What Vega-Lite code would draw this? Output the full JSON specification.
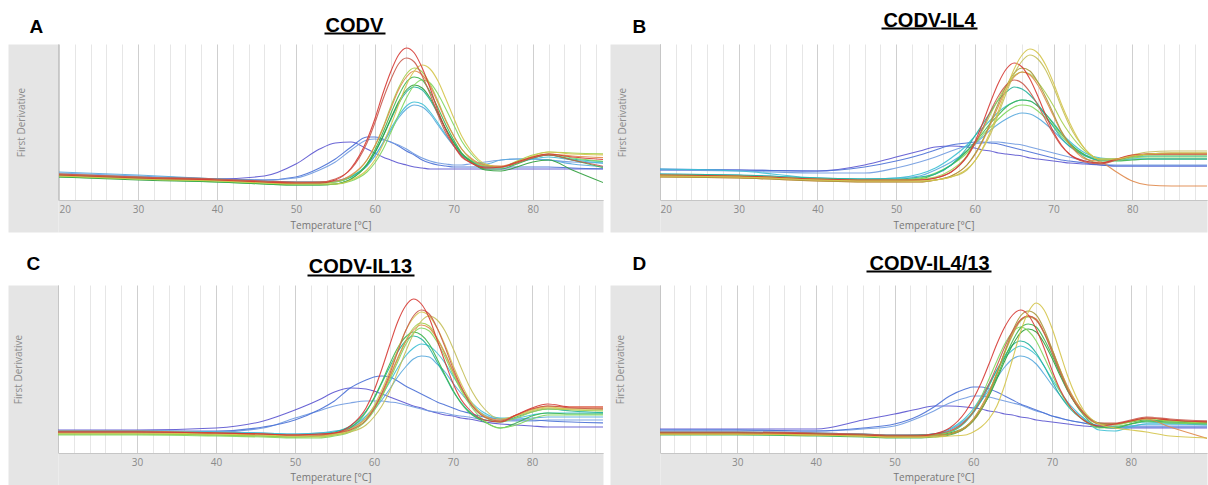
{
"$schema":"https://vega.github.io/schema/vega-lite/v6.json",
"background":"white",
"padding":{"left":13,"top":10,"right":0,"bottom":0},
"config":{"view":{"stroke":null},"font":"Open Sans"},
"columns":2,
"spacing":{"row":85,"column":57},
"bounds":"flush",
"datasets":{
"a":[
{"t":20,"r1":25,"r2":26,"y1":24,"yg":25,"or":26,"g1":23,"g2":24,"te":25,"g3":23,"c1":26,"c2":28,"pu":25,"b1":25,"b2":27},
{"t":30,"r1":22,"r2":23,"y1":21,"yg":22,"or":23,"g1":21,"g2":21,"te":22,"g3":20,"c1":23,"c2":25,"pu":23,"b1":23,"b2":24},
{"t":40,"r1":20,"r2":21,"y1":19,"yg":20,"or":20,"g1":18,"g2":19,"te":20,"g3":18,"c1":21,"c2":21,"pu":21,"b1":21,"b2":21},
{"t":46,"r1":18,"r2":19,"y1":17,"yg":18,"or":18,"g1":16,"g2":17,"te":18,"g3":16,"c1":19,"c2":19,"pu":24,"b1":20,"b2":20},
{"t":50,"r1":17,"r2":18,"y1":16,"yg":17,"or":17,"g1":15,"g2":16,"te":17,"g3":15,"c1":18,"c2":18,"pu":36,"b1":23,"b2":22},
{"t":53,"r1":17,"r2":18,"y1":16,"yg":17,"or":18,"g1":15,"g2":16,"te":17,"g3":15,"c1":18,"c2":18,"pu":51,"b1":32,"b2":30},
{"t":55,"r1":20,"r2":21,"y1":16,"yg":18,"or":19,"g1":16,"g2":16,"te":18,"g3":16,"c1":19,"c2":19,"pu":57,"b1":41,"b2":38},
{"t":57,"r1":32,"r2":31,"y1":20,"yg":24,"or":25,"g1":21,"g2":19,"te":23,"g3":21,"c1":23,"c2":24,"pu":58,"b1":53,"b2":50},
{"t":59,"r1":60,"r2":57,"y1":30,"yg":40,"or":40,"g1":36,"g2":28,"te":36,"g3":35,"c1":34,"c2":34,"pu":51,"b1":63,"b2":60},
{"t":60,"r1":81,"r2":77,"y1":40,"yg":54,"or":54,"g1":50,"g2":37,"te":48,"g3":47,"c1":44,"c2":44,"pu":47,"b1":63,"b2":61},
{"t":61,"r1":106,"r2":100,"y1":55,"yg":72,"or":71,"g1":67,"g2":50,"te":63,"g3":63,"c1":57,"c2":56,"pu":43,"b1":61,"b2":60},
{"t":62,"r1":128,"r2":120,"y1":74,"yg":93,"or":91,"g1":86,"g2":67,"te":80,"g3":81,"c1":71,"c2":69,"pu":40,"b1":58,"b2":58},
{"t":63,"r1":145,"r2":136,"y1":95,"yg":112,"or":110,"g1":104,"g2":85,"te":96,"g3":98,"c1":84,"c2":82,"pu":37,"b1":54,"b2":55},
{"t":64,"r1":152,"r2":142,"y1":115,"yg":126,"or":123,"g1":118,"g2":102,"te":108,"g3":110,"c1":94,"c2":91,"pu":35,"b1":49,"b2":51},
{"t":65,"r1":147,"r2":138,"y1":129,"yg":132,"or":129,"g1":123,"g2":115,"te":113,"g3":115,"c1":98,"c2":95,"pu":33,"b1":45,"b2":46},
{"t":66,"r1":132,"r2":124,"y1":135,"yg":128,"or":125,"g1":120,"g2":120,"te":110,"g3":112,"c1":96,"c2":93,"pu":32,"b1":40,"b2":42},
{"t":67,"r1":112,"r2":106,"y1":131,"yg":116,"or":114,"g1":108,"g2":117,"te":100,"g3":102,"c1":88,"c2":86,"pu":31,"b1":37,"b2":39},
{"t":68,"r1":89,"r2":85,"y1":119,"yg":99,"or":97,"g1":92,"g2":106,"te":86,"g3":87,"c1":77,"c2":75,"pu":31,"b1":35,"b2":37},
{"t":69,"r1":70,"r2":67,"y1":101,"yg":80,"or":79,"g1":75,"g2":91,"te":71,"g3":71,"c1":65,"c2":64,"pu":31,"b1":34,"b2":36},
{"t":70,"r1":55,"r2":54,"y1":82,"yg":64,"or":64,"g1":60,"g2":75,"te":58,"g3":57,"c1":54,"c2":54,"pu":31,"b1":33,"b2":35},
{"t":71,"r1":44,"r2":43,"y1":64,"yg":51,"or":51,"g1":47,"g2":59,"te":47,"g3":46,"c1":45,"c2":45,"pu":31,"b1":33,"b2":35},
{"t":72,"r1":38,"r2":38,"y1":51,"yg":42,"or":43,"g1":40,"g2":48,"te":40,"g3":39,"c1":40,"c2":40,"pu":31,"b1":33,"b2":36},
{"t":74,"r1":32,"r2":33,"y1":36,"yg":34,"or":35,"g1":31,"g2":35,"te":33,"g3":30,"c1":34,"c2":36,"pu":31,"b1":33,"b2":38},
{"t":76,"r1":33,"r2":33,"y1":33,"yg":33,"or":34,"g1":31,"g2":33,"te":33,"g3":29,"c1":33,"c2":40,"pu":31,"b1":33,"b2":40},
{"t":78,"r1":38,"r2":37,"y1":38,"yg":39,"or":38,"g1":36,"g2":37,"te":37,"g3":33,"c1":37,"c2":41,"pu":31,"b1":33,"b2":41},
{"t":80,"r1":43,"r2":42,"y1":44,"yg":45,"or":43,"g1":42,"g2":43,"te":42,"g3":38,"c1":41,"c2":41,"pu":31,"b1":33,"b2":41},
{"t":82,"r1":46,"r2":45,"y1":48,"yg":48,"or":46,"g1":45,"g2":46,"te":45,"g3":40,"c1":43,"c2":40,"pu":31,"b1":33,"b2":40},
{"t":85,"r1":43,"r2":40,"y1":46,"yg":47,"or":44,"g1":40,"g2":42,"te":41,"g3":30,"c1":40,"c2":36,"pu":31,"b1":32,"b2":38},
{"t":90,"r1":40,"r2":32,"y1":45,"yg":46,"or":42,"g1":30,"g2":38,"te":38,"g3":14,"c1":36,"c2":33,"pu":31,"b1":31,"b2":37}
],
"b":[
{"t":20,"y1":24,"y2":24,"r1":25,"ol":23,"r2":24,"yg":25,"te":26,"g1":24,"g2":25,"c1":31,"c2":26,"or":23,"pu":30,"b1":31,"b2":30},
{"t":30,"y1":23,"y2":23,"r1":24,"ol":22,"r2":23,"yg":24,"te":25,"g1":23,"g2":24,"c1":29,"c2":25,"or":22,"pu":30,"b1":30,"b2":29},
{"t":40,"y1":20,"y2":20,"r1":21,"ol":19,"r2":20,"yg":21,"te":22,"g1":20,"g2":21,"c1":22,"c2":22,"or":19,"pu":29,"b1":29,"b2":27},
{"t":46,"y1":19,"y2":19,"r1":20,"ol":18,"r2":19,"yg":20,"te":21,"g1":19,"g2":20,"c1":21,"c2":21,"or":18,"pu":35,"b1":33,"b2":27},
{"t":50,"y1":19,"y2":19,"r1":20,"ol":18,"r2":19,"yg":20,"te":21,"g1":19,"g2":20,"c1":22,"c2":22,"or":18,"pu":43,"b1":39,"b2":32},
{"t":53,"y1":19,"y2":19,"r1":20,"ol":18,"r2":20,"yg":21,"te":23,"g1":21,"g2":22,"c1":26,"c2":24,"or":18,"pu":49,"b1":45,"b2":38},
{"t":55,"y1":20,"y2":20,"r1":22,"ol":20,"r2":22,"yg":23,"te":26,"g1":26,"g2":27,"c1":32,"c2":30,"or":20,"pu":53,"b1":50,"b2":43},
{"t":57,"y1":23,"y2":23,"r1":28,"ol":24,"r2":28,"yg":30,"te":35,"g1":35,"g2":35,"c1":42,"c2":38,"or":24,"pu":54,"b1":55,"b2":49},
{"t":59,"y1":31,"y2":30,"r1":44,"ol":35,"r2":43,"yg":44,"te":52,"g1":49,"g2":47,"c1":55,"c2":49,"or":35,"pu":53,"b1":57,"b2":54},
{"t":60,"y1":39,"y2":39,"r1":58,"ol":46,"r2":56,"yg":56,"te":64,"g1":58,"g2":56,"c1":64,"c2":56,"or":45,"pu":52,"b1":58,"b2":56},
{"t":61,"y1":52,"y2":51,"r1":77,"ol":60,"r2":72,"yg":70,"te":76,"g1":67,"g2":65,"c1":72,"c2":63,"or":59,"pu":50,"b1":58,"b2":57},
{"t":62,"y1":69,"y2":66,"r1":98,"ol":78,"r2":89,"yg":86,"te":88,"g1":77,"g2":73,"c1":80,"c2":70,"or":76,"pu":49,"b1":57,"b2":58},
{"t":63,"y1":89,"y2":86,"r1":117,"ol":97,"r2":104,"yg":101,"te":100,"g1":85,"g2":81,"c1":88,"c2":76,"or":94,"pu":47,"b1":56,"b2":58},
{"t":64,"y1":111,"y2":107,"r1":131,"ol":114,"r2":115,"yg":114,"te":108,"g1":93,"g2":88,"c1":94,"c2":81,"or":111,"pu":46,"b1":54,"b2":57},
{"t":65,"y1":131,"y2":126,"r1":137,"ol":127,"r2":120,"yg":124,"te":113,"g1":98,"g2":93,"c1":98,"c2":85,"or":123,"pu":45,"b1":52,"b2":56},
{"t":66,"y1":145,"y2":139,"r1":133,"ol":132,"r2":117,"yg":128,"te":111,"g1":100,"g2":95,"c1":100,"c2":87,"or":128,"pu":44,"b1":50,"b2":55},
{"t":67,"y1":151,"y2":145,"r1":121,"ol":129,"r2":108,"yg":126,"te":105,"g1":99,"g2":94,"c1":99,"c2":86,"or":125,"pu":42,"b1":48,"b2":53},
{"t":68,"y1":147,"y2":141,"r1":104,"ol":118,"r2":95,"yg":118,"te":96,"g1":94,"g2":89,"c1":94,"c2":82,"or":115,"pu":41,"b1":46,"b2":51},
{"t":69,"y1":135,"y2":130,"r1":85,"ol":103,"r2":80,"yg":107,"te":84,"g1":86,"g2":82,"c1":86,"c2":76,"or":100,"pu":40,"b1":44,"b2":49},
{"t":70,"y1":117,"y2":113,"r1":68,"ol":86,"r2":66,"yg":94,"te":73,"g1":76,"g2":74,"c1":77,"c2":69,"or":84,"pu":39,"b1":42,"b2":47},
{"t":71,"y1":96,"y2":93,"r1":55,"ol":69,"r2":54,"yg":79,"te":62,"g1":66,"g2":64,"c1":67,"c2":61,"or":68,"pu":38,"b1":40,"b2":45},
{"t":72,"y1":78,"y2":75,"r1":46,"ol":57,"r2":46,"yg":67,"te":54,"g1":57,"g2":56,"c1":59,"c2":54,"or":56,"pu":37,"b1":39,"b2":43},
{"t":74,"y1":51,"y2":51,"r1":39,"ol":42,"r2":38,"yg":49,"te":44,"g1":45,"g2":45,"c1":47,"c2":45,"or":41,"pu":36,"b1":37,"b2":39},
{"t":76,"y1":41,"y2":40,"r1":37,"ol":37,"r2":36,"yg":41,"te":40,"g1":39,"g2":40,"c1":42,"c2":41,"or":38,"pu":35,"b1":35,"b2":36},
{"t":78,"y1":41,"y2":41,"r1":41,"ol":40,"r2":40,"yg":41,"te":41,"g1":39,"g2":40,"c1":41,"c2":40,"or":28,"pu":34,"b1":34,"b2":35},
{"t":80,"y1":44,"y2":45,"r1":45,"ol":44,"r2":44,"yg":43,"te":43,"g1":40,"g2":42,"c1":41,"c2":41,"or":19,"pu":34,"b1":34,"b2":35},
{"t":82,"y1":46,"y2":48,"r1":46,"ol":46,"r2":46,"yg":45,"te":44,"g1":41,"g2":43,"c1":41,"c2":41,"or":15,"pu":34,"b1":34,"b2":35},
{"t":85,"y1":47,"y2":49,"r1":46,"ol":47,"r2":46,"yg":45,"te":44,"g1":41,"g2":43,"c1":41,"c2":41,"or":14,"pu":34,"b1":34,"b2":35},
{"t":90,"y1":47,"y2":49,"r1":46,"ol":47,"r2":46,"yg":45,"te":44,"g1":41,"g2":43,"c1":41,"c2":41,"or":14,"pu":34,"b1":34,"b2":35}
],
"c":[
{"t":20,"r1":21,"r2":21,"y1":20,"y2":20,"yg":19,"g1":19,"g2":18,"te":21,"c1":22,"c2":22,"or":22,"pu":23,"b1":22,"b2":22},
{"t":30,"r1":21,"r2":21,"y1":20,"y2":20,"yg":19,"g1":19,"g2":18,"te":21,"c1":22,"c2":22,"or":22,"pu":23,"b1":22,"b2":22},
{"t":40,"r1":20,"r2":20,"y1":19,"y2":19,"yg":18,"g1":18,"g2":17,"te":20,"c1":21,"c2":21,"or":20,"pu":25,"b1":22,"b2":21},
{"t":46,"r1":19,"r2":19,"y1":18,"y2":18,"yg":17,"g1":17,"g2":16,"te":19,"c1":20,"c2":20,"or":19,"pu":32,"b1":26,"b2":25},
{"t":50,"r1":18,"r2":18,"y1":17,"y2":17,"yg":16,"g1":16,"g2":15,"te":18,"c1":19,"c2":19,"or":18,"pu":43,"b1":33,"b2":35},
{"t":53,"r1":19,"r2":18,"y1":17,"y2":17,"yg":16,"g1":17,"g2":15,"te":19,"c1":20,"c2":20,"or":18,"pu":53,"b1":43,"b2":42},
{"t":55,"r1":20,"r2":20,"y1":19,"y2":18,"yg":18,"g1":19,"g2":17,"te":21,"c1":21,"c2":22,"or":20,"pu":61,"b1":52,"b2":47},
{"t":57,"r1":27,"r2":23,"y1":23,"y2":21,"yg":22,"g1":25,"g2":21,"te":27,"c1":26,"c2":25,"or":24,"pu":65,"b1":65,"b2":50},
{"t":59,"r1":45,"r2":33,"y1":35,"y2":28,"yg":33,"g1":41,"g2":32,"te":42,"c1":37,"c2":35,"or":35,"pu":64,"b1":73,"b2":52},
{"t":60,"r1":62,"r2":44,"y1":47,"y2":36,"yg":44,"g1":55,"g2":42,"te":54,"c1":46,"c2":43,"or":45,"pu":62,"b1":76,"b2":52},
{"t":61,"r1":84,"r2":60,"y1":63,"y2":47,"yg":58,"g1":71,"g2":56,"te":70,"c1":58,"c2":53,"or":59,"pu":59,"b1":77,"b2":52},
{"t":62,"r1":108,"r2":79,"y1":82,"y2":62,"yg":76,"g1":89,"g2":73,"te":86,"c1":71,"c2":64,"or":76,"pu":56,"b1":76,"b2":51},
{"t":63,"r1":131,"r2":101,"y1":103,"y2":81,"yg":95,"g1":105,"g2":91,"te":101,"c1":85,"c2":76,"or":94,"pu":53,"b1":72,"b2":50},
{"t":64,"r1":147,"r2":122,"y1":122,"y2":101,"yg":112,"g1":116,"g2":108,"te":112,"c1":97,"c2":86,"or":111,"pu":50,"b1":67,"b2":48},
{"t":65,"r1":154,"r2":137,"y1":135,"y2":119,"yg":125,"g1":121,"g2":120,"te":117,"c1":105,"c2":94,"or":123,"pu":47,"b1":63,"b2":46},
{"t":66,"r1":149,"r2":143,"y1":141,"y2":132,"yg":130,"g1":118,"g2":125,"te":114,"c1":109,"c2":97,"or":128,"pu":45,"b1":59,"b2":44},
{"t":67,"r1":135,"r2":139,"y1":137,"y2":137,"yg":127,"g1":109,"g2":122,"te":105,"c1":107,"c2":96,"or":125,"pu":42,"b1":55,"b2":42},
{"t":68,"r1":113,"r2":125,"y1":125,"y2":133,"yg":115,"g1":94,"g2":111,"te":91,"c1":100,"c2":89,"or":114,"pu":40,"b1":51,"b2":41},
{"t":69,"r1":91,"r2":106,"y1":108,"y2":122,"yg":100,"g1":78,"g2":96,"te":77,"c1":90,"c2":81,"or":99,"pu":38,"b1":48,"b2":40},
{"t":70,"r1":70,"r2":85,"y1":88,"y2":105,"yg":82,"g1":63,"g2":79,"te":62,"c1":77,"c2":70,"or":82,"pu":37,"b1":45,"b2":38},
{"t":71,"r1":54,"r2":67,"y1":70,"y2":86,"yg":65,"g1":50,"g2":63,"te":51,"c1":65,"c2":60,"or":66,"pu":35,"b1":42,"b2":37},
{"t":72,"r1":44,"r2":52,"y1":55,"y2":68,"yg":52,"g1":41,"g2":50,"te":42,"c1":54,"c2":51,"or":53,"pu":34,"b1":40,"b2":36},
{"t":74,"r1":33,"r2":36,"y1":37,"y2":44,"yg":36,"g1":31,"g2":32,"te":33,"c1":40,"c2":38,"or":37,"pu":31,"b1":36,"b2":33},
{"t":76,"r1":31,"r2":32,"y1":32,"y2":34,"yg":31,"g1":25,"g2":25,"te":31,"c1":35,"c2":34,"or":33,"pu":29,"b1":34,"b2":32},
{"t":78,"r1":38,"r2":38,"y1":37,"y2":37,"yg":35,"g1":30,"g2":28,"te":36,"c1":35,"c2":34,"or":38,"pu":28,"b1":33,"b2":32},
{"t":80,"r1":45,"r2":44,"y1":43,"y2":42,"yg":41,"g1":37,"g2":34,"te":41,"c1":38,"c2":35,"or":44,"pu":27,"b1":33,"b2":32},
{"t":82,"r1":49,"r2":47,"y1":46,"y2":45,"yg":44,"g1":40,"g2":38,"te":44,"c1":40,"c2":36,"or":47,"pu":26,"b1":32,"b2":33},
{"t":85,"r1":46,"r2":45,"y1":44,"y2":44,"yg":43,"g1":39,"g2":38,"te":42,"c1":40,"c2":36,"or":46,"pu":26,"b1":31,"b2":33},
{"t":90,"r1":46,"r2":44,"y1":44,"y2":44,"yg":42,"g1":39,"g2":38,"te":40,"c1":40,"c2":36,"or":46,"pu":26,"b1":30,"b2":33}
],
"d":[
{"t":20,"r1":20,"r2":21,"y1":19,"ol":20,"yg":19,"g1":18,"g2":19,"g3":20,"te":20,"c1":21,"c2":21,"or":19,"pu":24,"b1":23,"b2":23},
{"t":30,"r1":20,"r2":21,"y1":19,"ol":20,"yg":19,"g1":18,"g2":19,"g3":20,"te":20,"c1":21,"c2":21,"or":19,"pu":24,"b1":23,"b2":23},
{"t":40,"r1":19,"r2":20,"y1":18,"ol":19,"yg":18,"g1":17,"g2":18,"g3":19,"te":19,"c1":20,"c2":20,"or":18,"pu":24,"b1":22,"b2":22},
{"t":46,"r1":18,"r2":19,"y1":17,"ol":18,"yg":17,"g1":16,"g2":17,"g3":18,"te":18,"c1":19,"c2":19,"or":17,"pu":33,"b1":25,"b2":24},
{"t":50,"r1":17,"r2":18,"y1":16,"ol":17,"yg":16,"g1":15,"g2":16,"g3":17,"te":17,"c1":18,"c2":18,"or":16,"pu":39,"b1":29,"b2":27},
{"t":53,"r1":17,"r2":18,"y1":16,"ol":17,"yg":16,"g1":15,"g2":17,"g3":17,"te":18,"c1":18,"c2":18,"or":16,"pu":44,"b1":37,"b2":35},
{"t":55,"r1":19,"r2":19,"y1":16,"ol":18,"yg":17,"g1":16,"g2":18,"g3":18,"te":19,"c1":19,"c2":19,"or":17,"pu":47,"b1":46,"b2":42},
{"t":57,"r1":25,"r2":22,"y1":17,"ol":19,"yg":19,"g1":18,"g2":21,"g3":20,"te":21,"c1":24,"c2":23,"or":19,"pu":47,"b1":57,"b2":50},
{"t":59,"r1":41,"r2":32,"y1":18,"ol":25,"yg":26,"g1":25,"g2":32,"g3":26,"te":31,"c1":35,"c2":33,"or":26,"pu":46,"b1":64,"b2":55},
{"t":60,"r1":54,"r2":41,"y1":21,"ol":32,"yg":34,"g1":32,"g2":42,"g3":33,"te":40,"c1":44,"c2":41,"or":34,"pu":45,"b1":66,"b2":57},
{"t":61,"r1":70,"r2":54,"y1":26,"ol":43,"yg":46,"g1":43,"g2":56,"g3":44,"te":52,"c1":56,"c2":52,"or":46,"pu":44,"b1":66,"b2":57},
{"t":62,"r1":89,"r2":69,"y1":34,"ol":59,"yg":61,"g1":58,"g2":74,"g3":57,"te":67,"c1":69,"c2":63,"or":61,"pu":42,"b1":64,"b2":56},
{"t":63,"r1":109,"r2":87,"y1":47,"ol":79,"yg":80,"g1":76,"g2":92,"g3":74,"te":83,"c1":83,"c2":75,"or":80,"pu":41,"b1":61,"b2":54},
{"t":64,"r1":126,"r2":106,"y1":68,"ol":101,"yg":100,"g1":95,"g2":109,"g3":92,"te":97,"c1":95,"c2":86,"or":101,"pu":39,"b1":57,"b2":52},
{"t":65,"r1":138,"r2":122,"y1":94,"ol":122,"yg":118,"g1":112,"g2":121,"g3":108,"te":108,"c1":103,"c2":94,"or":119,"pu":38,"b1":53,"b2":50},
{"t":66,"r1":143,"r2":133,"y1":121,"ol":137,"yg":132,"g1":125,"g2":126,"g3":120,"te":112,"c1":107,"c2":97,"or":133,"pu":36,"b1":49,"b2":48},
{"t":67,"r1":138,"r2":137,"y1":141,"ol":142,"yg":136,"g1":129,"g2":122,"g3":124,"te":109,"c1":104,"c2":95,"or":137,"pu":35,"b1":46,"b2":45},
{"t":68,"r1":124,"r2":133,"y1":150,"ol":138,"yg":133,"g1":126,"g2":112,"g3":121,"te":100,"c1":98,"c2":89,"or":134,"pu":33,"b1":43,"b2":42},
{"t":69,"r1":105,"r2":120,"y1":143,"ol":124,"yg":120,"g1":114,"g2":96,"g3":110,"te":87,"c1":87,"c2":79,"or":121,"pu":32,"b1":40,"b2":40},
{"t":70,"r1":83,"r2":101,"y1":125,"ol":104,"yg":103,"g1":98,"g2":79,"g3":95,"te":72,"c1":74,"c2":68,"or":104,"pu":31,"b1":37,"b2":37},
{"t":71,"r1":64,"r2":81,"y1":101,"ol":83,"yg":84,"g1":80,"g2":62,"g3":78,"te":58,"c1":62,"c2":58,"or":84,"pu":30,"b1":35,"b2":35},
{"t":72,"r1":50,"r2":63,"y1":77,"ol":64,"yg":66,"g1":63,"g2":49,"g3":62,"te":47,"c1":51,"c2":48,"or":66,"pu":29,"b1":33,"b2":33},
{"t":74,"r1":33,"r2":40,"y1":43,"ol":39,"yg":41,"g1":38,"g2":33,"g3":40,"te":33,"c1":35,"c2":35,"or":41,"pu":27,"b1":30,"b2":30},
{"t":76,"r1":27,"r2":30,"y1":29,"ol":29,"yg":29,"g1":26,"g2":25,"g3":30,"te":26,"c1":23,"c2":26,"or":29,"pu":26,"b1":27,"b2":28},
{"t":78,"r1":29,"r2":30,"y1":25,"ol":29,"yg":28,"g1":25,"g2":26,"g3":29,"te":26,"c1":22,"c2":25,"or":29,"pu":25,"b1":26,"b2":27},
{"t":80,"r1":32,"r2":33,"y1":23,"ol":32,"yg":31,"g1":29,"g2":29,"g3":31,"te":29,"c1":26,"c2":27,"or":32,"pu":25,"b1":26,"b2":27},
{"t":82,"r1":35,"r2":36,"y1":21,"ol":35,"yg":34,"g1":32,"g2":32,"g3":33,"te":31,"c1":29,"c2":29,"or":34,"pu":25,"b1":26,"b2":27},
{"t":85,"r1":33,"r2":34,"y1":17,"ol":33,"yg":32,"g1":31,"g2":30,"g3":32,"te":30,"c1":29,"c2":29,"or":26,"pu":25,"b1":26,"b2":27},
{"t":90,"r1":31,"r2":32,"y1":15,"ol":31,"yg":30,"g1":30,"g2":29,"g3":31,"te":29,"c1":28,"c2":29,"or":14,"pu":25,"b1":26,"b2":27}
]
},
"concat":[
{
"width":545,"height":156,
"data":{"name":"a"},
"transform":[{"fold":["pu","b1","b2","c1","c2","te","g3","g1","g2","yg","or","y1","r2","r1"],"as":["k","v"]}],
"resolve":{"scale":{"x":"independent","y":"independent"},"axis":{"x":"independent","y":"independent"}},
"layer":[
{"mark":{"type":"line","interpolate":"monotone","strokeWidth":1.1,"opacity":0.9,"clip":true},
"encoding":{
"x":{"field":"t","type":"quantitative","scale":{"domain":[19.87,88.9],"nice":false,"zero":false},
"axis":{"orient":"bottom","values":[20,22,24,26,28,30,32,34,36,38,40,42,44,46,48,50,52,54,56,58,60,62,64,66,68,70,72,74,76,78,80,82,84,86,88],"labels":false,"grid":true,"gridColor":{"condition":{"test":"datum.value % 10 === 0","value":"#cfcfcf"},"value":"#e6e6e6"},"ticks":false,"domain":true,"domainColor":"#e5e5e5","domainWidth":32,"domainCap":"butt","offset":16,"title":null}},
"y":{"field":"v","type":"quantitative","scale":{"domain":[0,156],"nice":false,"zero":false},
"axis":{"orient":"left","values":[0],"grid":true,"gridColor":"#a6a6a6","labels":false,"ticks":false,"domain":false,"title":null}},
"color":{"field":"k","type":"nominal","scale":{"domain":["r1","r2","y1","y2","ol","yg","or","g1","g2","g3","te","c1","c2","pu","b1","b2"],"range":["#d63a34","#c95a4c","#d4c44a","#c4bf58","#a8983c","#a3ce4a","#e0884a","#3db54b","#7fd65c","#2f9e3c","#23b29c","#3ec0d4","#58a9dd","#5b55d0","#4a70d6","#6f9ae0"]},"legend":null}
}},
{"mark":{"type":"line","opacity":0},
"encoding":{
"x":{"field":"t","type":"quantitative","scale":{"domain":[19.87,88.9],"nice":false,"zero":false},
"axis":{"orient":"top","values":[19.87],"grid":true,"gridColor":"#a6a6a6","labels":false,"ticks":false,"domain":false,"title":"CODV","titleX":296,"titleY":-13,"titleAlign":"center","titleBaseline":"alphabetic","titleFont":"Liberation Sans","titleFontSize":20,"titleFontWeight":"bold","titleColor":"#000000","titleAngle":0}},
"y":{"field":"v","type":"quantitative","scale":{"domain":[0,156],"nice":false,"zero":false},
"axis":{"orient":"right","grid":false,"labels":false,"ticks":false,"domain":false,"title":"A","titleAngle":0,"titleX":-574,"titleY":-12,"titleAlign":"left","titleBaseline":"alphabetic","titleFont":"Liberation Sans","titleFontSize":19,"titleFontWeight":"bold","titleColor":"#000000"}},
"detail":{"field":"k"}
}},
{"mark":{"type":"line","opacity":0},
"encoding":{
"x":{"field":"t","type":"quantitative","scale":{"domain":[19.87,88.9],"nice":false,"zero":false},
"axis":{"orient":"bottom","zindex":1,"values":[20,30,40,50,60,70,80],"labelFlush":5,"labelOverlap":false,"grid":false,"ticks":false,"domain":false,"labelPadding":4,"labelColor":"#8a8a8a","labelFontSize":10,"labelFont":"Open Sans","title":"Temperature [°C]","titleColor":"#767676","titleFontSize":10,"titleFontWeight":"normal","titleFont":"Open Sans","titleBaseline":"top","titleY":20}},
"y":{"field":"v","type":"quantitative","scale":{"domain":[0,156],"range":[188,0],"nice":false,"zero":false},
"axis":{"orient":"left","labels":false,"ticks":false,"grid":false,"domain":true,"domainColor":"#e5e5e5","domainWidth":50,"domainCap":"butt","offset":25,"title":"First Derivative","titleColor":"#8c8c8c","titleFontSize":10,"titleFontWeight":"normal","titleFont":"Open Sans","titleX":-12,"titleY":78,"titleBaseline":"middle"}},
"detail":{"field":"k"}
}},
{"mark":{"type":"line","opacity":0,"clip":true},
"encoding":{
"x":{"field":"t","type":"quantitative","scale":{"domain":[0,1],"range":[266,327],"nice":false,"zero":false},
"axis":{"orient":"top","offset":11,"domain":true,"domainColor":"#000000","domainWidth":2,"labels":false,"ticks":false,"grid":false,"title":null}},
"y":{"field":"v","type":"quantitative","scale":{"domain":[0,156],"nice":false,"zero":false},"axis":null},
"detail":{"field":"k"}
}}
]
},
{
"width":547,"height":156,
"data":{"name":"b"},
"transform":[{"fold":["pu","b1","b2","c2","c1","g2","g1","te","yg","or","ol","r2","y2","r1","y1"],"as":["k","v"]}],
"resolve":{"scale":{"x":"independent","y":"independent"},"axis":{"x":"independent","y":"independent"}},
"layer":[
{"mark":{"type":"line","interpolate":"monotone","strokeWidth":1.1,"opacity":0.9,"clip":true},
"encoding":{
"x":{"field":"t","type":"quantitative","scale":{"domain":[20,89.5],"nice":false,"zero":false},
"axis":{"orient":"bottom","values":[20,22,24,26,28,30,32,34,36,38,40,42,44,46,48,50,52,54,56,58,60,62,64,66,68,70,72,74,76,78,80,82,84,86,88],"labels":false,"grid":true,"gridColor":{"condition":{"test":"datum.value % 10 === 0","value":"#cfcfcf"},"value":"#e6e6e6"},"ticks":false,"domain":true,"domainColor":"#e5e5e5","domainWidth":32,"domainCap":"butt","offset":16,"title":null}},
"y":{"field":"v","type":"quantitative","scale":{"domain":[0,156],"nice":false,"zero":false},
"axis":{"orient":"left","values":[0],"grid":true,"gridColor":"#a6a6a6","labels":false,"ticks":false,"domain":false,"title":null}},
"color":{"field":"k","type":"nominal","scale":{"domain":["r1","r2","y1","y2","ol","yg","or","g1","g2","g3","te","c1","c2","pu","b1","b2"],"range":["#d63a34","#c95a4c","#d4c44a","#c4bf58","#a8983c","#a3ce4a","#e0884a","#3db54b","#7fd65c","#2f9e3c","#23b29c","#3ec0d4","#58a9dd","#5b55d0","#4a70d6","#6f9ae0"]},"legend":null}
}},
{"mark":{"type":"line","opacity":0},
"encoding":{
"x":{"field":"t","type":"quantitative","scale":{"domain":[20,89.5],"nice":false,"zero":false},
"axis":{"orient":"top","values":[20],"grid":true,"gridColor":"#a6a6a6","labels":false,"ticks":false,"domain":false,"title":"CODV-IL4","titleX":269,"titleY":-18,"titleAlign":"center","titleBaseline":"alphabetic","titleFont":"Liberation Sans","titleFontSize":20,"titleFontWeight":"bold","titleColor":"#000000","titleAngle":0}},
"y":{"field":"v","type":"quantitative","scale":{"domain":[0,156],"nice":false,"zero":false},
"axis":{"orient":"right","grid":false,"labels":false,"ticks":false,"domain":false,"title":"B","titleAngle":0,"titleX":-575,"titleY":-12,"titleAlign":"left","titleBaseline":"alphabetic","titleFont":"Liberation Sans","titleFontSize":19,"titleFontWeight":"bold","titleColor":"#000000"}},
"detail":{"field":"k"}
}},
{"mark":{"type":"line","opacity":0},
"encoding":{
"x":{"field":"t","type":"quantitative","scale":{"domain":[20,89.5],"nice":false,"zero":false},
"axis":{"orient":"bottom","zindex":1,"values":[20,30,40,50,60,70,80],"labelFlush":5,"labelOverlap":false,"grid":false,"ticks":false,"domain":false,"labelPadding":4,"labelColor":"#8a8a8a","labelFontSize":10,"labelFont":"Open Sans","title":"Temperature [°C]","titleColor":"#767676","titleFontSize":10,"titleFontWeight":"normal","titleFont":"Open Sans","titleBaseline":"top","titleY":20}},
"y":{"field":"v","type":"quantitative","scale":{"domain":[0,156],"range":[188,0],"nice":false,"zero":false},
"axis":{"orient":"left","labels":false,"ticks":false,"grid":false,"domain":true,"domainColor":"#e5e5e5","domainWidth":50,"domainCap":"butt","offset":25,"title":"First Derivative","titleColor":"#8c8c8c","titleFontSize":10,"titleFontWeight":"normal","titleFont":"Open Sans","titleX":-13,"titleY":78,"titleBaseline":"middle"}},
"detail":{"field":"k"}
}},
{"mark":{"type":"line","opacity":0,"clip":true},
"encoding":{
"x":{"field":"t","type":"quantitative","scale":{"domain":[0,1],"range":[221,317],"nice":false,"zero":false},
"axis":{"orient":"top","offset":16,"domain":true,"domainColor":"#000000","domainWidth":2,"labels":false,"ticks":false,"grid":false,"title":null}},
"y":{"field":"v","type":"quantitative","scale":{"domain":[0,156],"nice":false,"zero":false},"axis":null},
"detail":{"field":"k"}
}}
]
},
{
"width":545,"height":168,
"data":{"name":"c"},
"transform":[{"fold":["pu","b2","b1","c2","c1","te","g1","g2","yg","or","y2","y1","r2","r1"],"as":["k","v"]}],
"resolve":{"scale":{"x":"independent","y":"independent"},"axis":{"x":"independent","y":"independent"}},
"layer":[
{"mark":{"type":"line","interpolate":"monotone","strokeWidth":1.1,"opacity":0.9,"clip":true},
"encoding":{
"x":{"field":"t","type":"quantitative","scale":{"domain":[20,89],"nice":false,"zero":false},
"axis":{"orient":"bottom","values":[22,24,26,28,30,32,34,36,38,40,42,44,46,48,50,52,54,56,58,60,62,64,66,68,70,72,74,76,78,80,82,84,86,88],"labels":false,"grid":true,"gridColor":{"condition":{"test":"datum.value % 10 === 0","value":"#cfcfcf"},"value":"#e6e6e6"},"ticks":false,"domain":true,"domainColor":"#e5e5e5","domainWidth":32,"domainCap":"butt","offset":16,"title":null}},
"y":{"field":"v","type":"quantitative","scale":{"domain":[0,168],"nice":false,"zero":false},
"axis":{"orient":"left","values":[0],"grid":true,"gridColor":"#a6a6a6","labels":false,"ticks":false,"domain":false,"title":null}},
"color":{"field":"k","type":"nominal","scale":{"domain":["r1","r2","y1","y2","ol","yg","or","g1","g2","g3","te","c1","c2","pu","b1","b2"],"range":["#d63a34","#c95a4c","#d4c44a","#c4bf58","#a8983c","#a3ce4a","#e0884a","#3db54b","#7fd65c","#2f9e3c","#23b29c","#3ec0d4","#58a9dd","#5b55d0","#4a70d6","#6f9ae0"]},"legend":null}
}},
{"mark":{"type":"line","opacity":0},
"encoding":{
"x":{"field":"t","type":"quantitative","scale":{"domain":[20,89],"nice":false,"zero":false},
"axis":{"orient":"top","values":[20],"grid":true,"gridColor":"#a6a6a6","labels":false,"ticks":false,"domain":false,"title":"CODV-IL13","titleX":302,"titleY":-13,"titleAlign":"center","titleBaseline":"alphabetic","titleFont":"Liberation Sans","titleFontSize":20,"titleFontWeight":"bold","titleColor":"#000000","titleAngle":0}},
"y":{"field":"v","type":"quantitative","scale":{"domain":[0,168],"nice":false,"zero":false},
"axis":{"orient":"right","grid":false,"labels":false,"ticks":false,"domain":false,"title":"C","titleAngle":0,"titleX":-577,"titleY":-16,"titleAlign":"left","titleBaseline":"alphabetic","titleFont":"Liberation Sans","titleFontSize":19,"titleFontWeight":"bold","titleColor":"#000000"}},
"detail":{"field":"k"}
}},
{"mark":{"type":"line","opacity":0},
"encoding":{
"x":{"field":"t","type":"quantitative","scale":{"domain":[20,89],"nice":false,"zero":false},
"axis":{"orient":"bottom","zindex":1,"values":[30,40,50,60,70,80],"labelOverlap":false,"grid":false,"ticks":false,"domain":false,"labelPadding":4,"labelColor":"#8a8a8a","labelFontSize":10,"labelFont":"Open Sans","title":"Temperature [°C]","titleColor":"#767676","titleFontSize":10,"titleFontWeight":"normal","titleFont":"Open Sans","titleBaseline":"top","titleY":19}},
"y":{"field":"v","type":"quantitative","scale":{"domain":[0,168],"range":[200,0],"nice":false,"zero":false},
"axis":{"orient":"left","labels":false,"ticks":false,"grid":false,"domain":true,"domainColor":"#e5e5e5","domainWidth":50,"domainCap":"butt","offset":25,"title":"First Derivative","titleColor":"#8c8c8c","titleFontSize":10,"titleFontWeight":"normal","titleFont":"Open Sans","titleX":-15,"titleY":84,"titleBaseline":"middle"}},
"detail":{"field":"k"}
}},
{"mark":{"type":"line","opacity":0,"clip":true},
"encoding":{
"x":{"field":"t","type":"quantitative","scale":{"domain":[0,1],"range":[249,356],"nice":false,"zero":false},
"axis":{"orient":"top","offset":10,"domain":true,"domainColor":"#000000","domainWidth":2,"labels":false,"ticks":false,"grid":false,"title":null}},
"y":{"field":"v","type":"quantitative","scale":{"domain":[0,168],"nice":false,"zero":false},"axis":null},
"detail":{"field":"k"}
}}
]
},
{
"width":547,"height":168,
"data":{"name":"d"},
"transform":[{"fold":["pu","b2","b1","c2","c1","te","g3","g2","g1","yg","or","ol","r2","r1","y1"],"as":["k","v"]}],
"resolve":{"scale":{"x":"independent","y":"independent"},"axis":{"x":"independent","y":"independent"}},
"layer":[
{"mark":{"type":"line","interpolate":"monotone","strokeWidth":1.1,"opacity":0.9,"clip":true},
"encoding":{
"x":{"field":"t","type":"quantitative","scale":{"domain":[20.2,89.7],"nice":false,"zero":false},
"axis":{"orient":"bottom","values":[22,24,26,28,30,32,34,36,38,40,42,44,46,48,50,52,54,56,58,60,62,64,66,68,70,72,74,76,78,80,82,84,86,88],"labels":false,"grid":true,"gridColor":{"condition":{"test":"datum.value % 10 === 0","value":"#cfcfcf"},"value":"#e6e6e6"},"ticks":false,"domain":true,"domainColor":"#e5e5e5","domainWidth":32,"domainCap":"butt","offset":16,"title":null}},
"y":{"field":"v","type":"quantitative","scale":{"domain":[0,168],"nice":false,"zero":false},
"axis":{"orient":"left","values":[0],"grid":true,"gridColor":"#a6a6a6","labels":false,"ticks":false,"domain":false,"title":null}},
"color":{"field":"k","type":"nominal","scale":{"domain":["r1","r2","y1","y2","ol","yg","or","g1","g2","g3","te","c1","c2","pu","b1","b2"],"range":["#d63a34","#c95a4c","#d4c44a","#c4bf58","#a8983c","#a3ce4a","#e0884a","#3db54b","#7fd65c","#2f9e3c","#23b29c","#3ec0d4","#58a9dd","#5b55d0","#4a70d6","#6f9ae0"]},"legend":null}
}},
{"mark":{"type":"line","opacity":0},
"encoding":{
"x":{"field":"t","type":"quantitative","scale":{"domain":[20.2,89.7],"nice":false,"zero":false},
"axis":{"orient":"top","values":[20.2],"grid":true,"gridColor":"#a6a6a6","labels":false,"ticks":false,"domain":false,"title":"CODV-IL4/13","titleX":269,"titleY":-16,"titleAlign":"center","titleBaseline":"alphabetic","titleFont":"Liberation Sans","titleFontSize":20,"titleFontWeight":"bold","titleColor":"#000000","titleAngle":0}},
"y":{"field":"v","type":"quantitative","scale":{"domain":[0,168],"nice":false,"zero":false},
"axis":{"orient":"right","grid":false,"labels":false,"ticks":false,"domain":false,"title":"D","titleAngle":0,"titleX":-575,"titleY":-16,"titleAlign":"left","titleBaseline":"alphabetic","titleFont":"Liberation Sans","titleFontSize":19,"titleFontWeight":"bold","titleColor":"#000000"}},
"detail":{"field":"k"}
}},
{"mark":{"type":"line","opacity":0},
"encoding":{
"x":{"field":"t","type":"quantitative","scale":{"domain":[20.2,89.7],"nice":false,"zero":false},
"axis":{"orient":"bottom","zindex":1,"values":[30,40,50,60,70,80],"labelOverlap":false,"grid":false,"ticks":false,"domain":false,"labelPadding":4,"labelColor":"#8a8a8a","labelFontSize":10,"labelFont":"Open Sans","title":"Temperature [°C]","titleColor":"#767676","titleFontSize":10,"titleFontWeight":"normal","titleFont":"Open Sans","titleBaseline":"top","titleY":19}},
"y":{"field":"v","type":"quantitative","scale":{"domain":[0,168],"range":[200,0],"nice":false,"zero":false},
"axis":{"orient":"left","labels":false,"ticks":false,"grid":false,"domain":true,"domainColor":"#e5e5e5","domainWidth":50,"domainCap":"butt","offset":25,"title":"First Derivative","titleColor":"#8c8c8c","titleFontSize":10,"titleFontWeight":"normal","titleFont":"Open Sans","titleX":-15,"titleY":84,"titleBaseline":"middle"}},
"detail":{"field":"k"}
}},
{"mark":{"type":"line","opacity":0,"clip":true},
"encoding":{
"x":{"field":"t","type":"quantitative","scale":{"domain":[0,1],"range":[206,331],"nice":false,"zero":false},
"axis":{"orient":"top","offset":14,"domain":true,"domainColor":"#000000","domainWidth":2,"labels":false,"ticks":false,"grid":false,"title":null}},
"y":{"field":"v","type":"quantitative","scale":{"domain":[0,168],"nice":false,"zero":false},"axis":null},
"detail":{"field":"k"}
}}
]
}
]
}
